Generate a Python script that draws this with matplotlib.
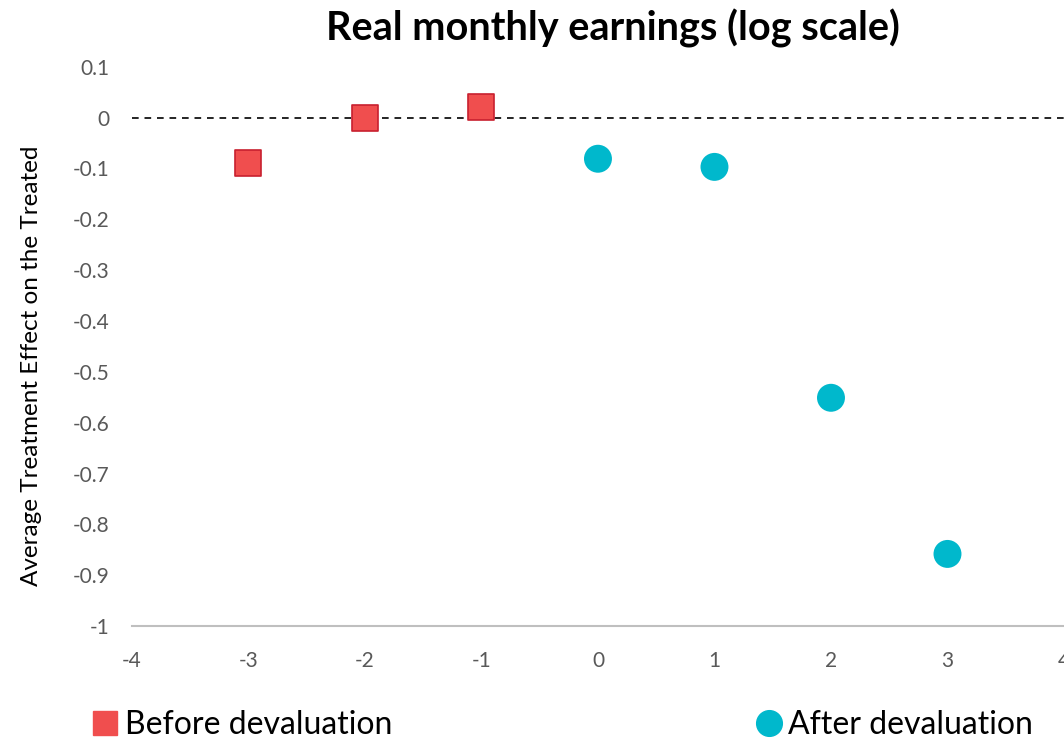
import matplotlib.pyplot as plt
from matplotlib.lines import Line2D

# data
before_x = [-3, -2, -1]
before_y = [-0.09, 0.0, 0.02]
after_x = [0, 1, 2, 3]
after_y = [-0.081, -0.097, -0.551, -0.858]

x_ticks = [-4, -3, -2, -1, 0, 1, 2, 3, 4]
y_ticks = [0.1, 0, -0.1, -0.2, -0.3, -0.4, -0.5, -0.6, -0.7, -0.8, -0.9, -1]

red = '#F04E4E'
red_edge = '#C8202F'
teal = '#00B8CC'
grey_txt = '#595959'

plt.rcParams['font.family'] = ['Lato', 'DejaVu Sans']

fig = plt.figure(figsize=(10.64, 7.41), dpi=100)
ax = fig.add_axes([0.124, 0.155, 0.876, 0.755])

ax.axhline(0, color='black', lw=1.2, ls=(0, (4, 3.5)), zorder=1)
ax.scatter(before_x, before_y, marker='s', s=330, color=red,
           edgecolor=red_edge, linewidth=1.2, zorder=3)
ax.scatter(after_x, after_y, marker='o', s=405, color=teal,
           edgecolor='none', zorder=3)

ax.set_xlim(-4, 4)
ax.set_ylim(-1, 0.1)
ax.set_xticks(x_ticks)
ax.set_xticklabels([str(v) for v in x_ticks])
ax.set_yticks(y_ticks)
ax.set_yticklabels([('%g' % v) for v in y_ticks])
ax.tick_params(length=0, labelsize=15, labelcolor=grey_txt)
ax.tick_params(axis='x', pad=18)
ax.tick_params(axis='y', pad=16)

for side in ['top', 'right', 'left']:
    ax.spines[side].set_visible(False)
ax.spines['bottom'].set_color('#BFBFBF')
ax.spines['bottom'].set_linewidth(1.5)

# y label sits a bit below the axes centre in the reference
fig.text(0.030, 0.506, 'Average Treatment Effect on the Treated',
         rotation=90, ha='center', va='center', fontsize=17.5)
fig.text(0.576, 0.962, 'Real monthly earnings (log scale)', ha='center',
         va='center', fontsize=28.5, fontweight='bold')

# legend split in two, left and right, like the reference
h1 = Line2D([], [], marker='s', ls='none', color=red, markersize=17)
h2 = Line2D([], [], marker='o', ls='none', color=teal, markersize=18.5)
fig.legend([h1], ['Before devaluation'], loc='center left',
           bbox_to_anchor=(0.087, 0.021), frameon=False, fontsize=23,
           handlelength=0.8, handletextpad=0.2, borderpad=0,
           borderaxespad=0)
fig.legend([h2], ['After devaluation'], loc='center left',
           bbox_to_anchor=(0.711, 0.021), frameon=False, fontsize=23,
           handlelength=0.8, handletextpad=0.2, borderpad=0,
           borderaxespad=0)

fig.savefig('out.png', dpi=100)
